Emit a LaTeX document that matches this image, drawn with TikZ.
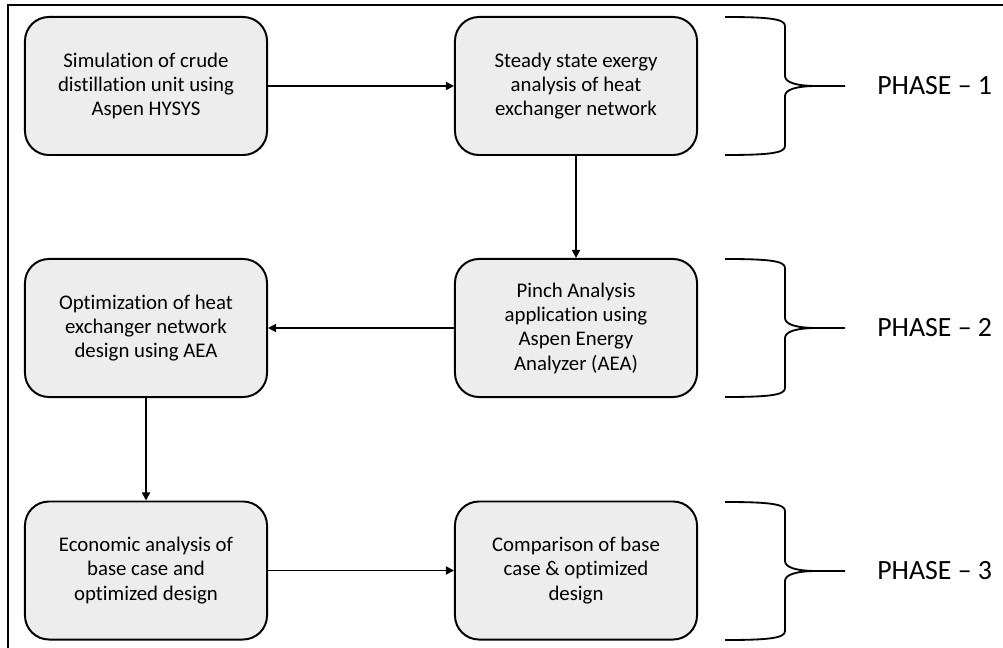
\documentclass[tikz,border=0pt]{standalone}
\usepackage{fontspec}
\setmainfont{Carlito}[Ligatures={TeX,NoCommon}]
\usepackage{xcolor}
\usetikzlibrary{arrows.meta,positioning}
\definecolor{boxgray}{RGB}{237,237,237}
\tikzset{
  stage/.style={draw,line width=1.4pt,rounded corners=0.6cm,fill=boxgray,align=center,
                font=\fontsize{14.8}{17.3}\selectfont,minimum width=6.05cm,
                minimum height=3.45cm,inner sep=2pt},
  flow/.style={-{Triangle[length=2mm,width=2mm]},line width=1.2pt},
  brc/.style={line width=1.3pt},
  phase/.style={font=\fontsize{19.8}{23}\selectfont,anchor=west,inner sep=0pt}
}

\begin{document}
\begin{tikzpicture}[x=0.025cm,y=-0.025cm]
  \useasboundingbox (0,0) rectangle (1003,648);
  % ---- outer frame ----
  \draw[line width=1.4pt] (8,5) rectangle (1030,680);
  % ---- stages ----
  \node[stage] (sim) at (146,86) {Simulation of crude\\ distillation unit using\\ Aspen HYSYS};
  \node[stage] (exergy) at (576,86) {Steady state exergy\\ analysis of heat\\ exchanger network};
  \node[stage] (pinch) at (576,328) {Pinch Analysis\\ application using\\ Aspen Energy\\ Analyzer (AEA)};
  \node[stage] (opt) at (146,328) {Optimization of heat\\ exchanger network\\ design using AEA};
  \node[stage] (econ) at (146,570.5) {Economic analysis of\\ base case and\\ optimized design};
  \node[stage] (comp) at (576,570.5) {Comparison of base\\ case \& optimized\\ design};
  % ---- flow ----
  \draw[flow] (sim) -- (exergy);
  \draw[flow] (exergy) -- (pinch);
  \draw[flow] (pinch) -- (opt);
  \draw[flow] (opt) -- (econ);
  \draw[flow] (econ) -- (comp);
  % ---- phase braces ----
  \foreach \t/\b/\n in {17/155/1,259/397/2,502/640/3}{
    \pgfmathsetmacro\m{(\t+\b)/2}
    \draw[brc] (845,\m) -- (817,\m) .. controls (795,\m) and (785,\m-4) .. (785,\m-10)
      -- (785,\t+9) .. controls (785,\t+2) and (770,\t) .. (725,\t);
    \draw[brc] (817,\m) .. controls (795,\m) and (785,\m+4) .. (785,\m+10)
      -- (785,\b-9) .. controls (785,\b-2) and (770,\b) .. (725,\b);
    \node[phase] (ph\n) at (877,\m) {PHASE -- \n};
  }
\end{tikzpicture}
\end{document}
